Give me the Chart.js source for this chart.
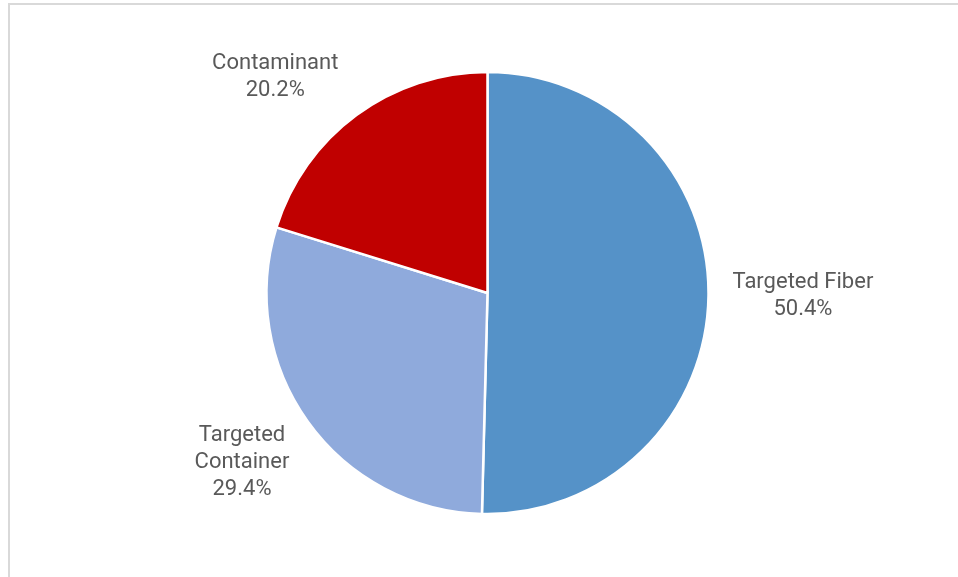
<!DOCTYPE html>
<html>
<head>
<meta charset="utf-8">
<script src="https://cdn.jsdelivr.net/npm/chart.js@4.4.1/dist/chart.umd.min.js"></script>
<style>
  html, body { margin: 0; padding: 0; background: #ffffff; overflow: hidden; }
  #frame { position: absolute; left: 8px; top: 3px; width: 1000px; height: 620px;
           border-left: 2px solid #d9d9d9; border-top: 2px solid #d9d9d9; }
  #wrap { position: absolute; left: 0; top: 0; width: 958px; height: 577px; }
</style>
</head>
<body>
<div id="frame"></div>
<div id="wrap"><canvas id="c" width="958" height="577"></canvas></div>
<script>
// ---- data ----
const categories = ["Targeted Fiber", "Targeted Container", "Contaminant"];
const labelLines = [["Targeted Fiber"], ["Targeted", "Container"], ["Contaminant"]];
const shares = [50.4, 29.4, 20.2];
const sliceColors = ["#5592c8", "#8faadc", "#c00000"];

// label placement tweaks (layout only)
const labelNudge = [[-6, 0], [-3, 0], [-26, 8]];

const outsideLabels = {
  id: "outsideLabels",
  afterDatasetsDraw(chart) {
    const ctx = chart.ctx;
    const meta = chart.getDatasetMeta(0);
    const fontPx = 22, lineH = 27, gap = 30;
    ctx.save();
    ctx.font = fontPx + "px Roboto";
    ctx.fillStyle = "#595959";
    ctx.textAlign = "center";
    ctx.textBaseline = "middle";
    meta.data.forEach((arc, i) => {
      const p = arc.getProps(["x", "y", "startAngle", "endAngle", "outerRadius"], true);
      const mid = (p.startAngle + p.endAngle) / 2;
      const dx = Math.cos(mid), dy = Math.sin(mid);
      const lines = labelLines[i].concat([shares[i].toFixed(1) + "%"]);
      const w = Math.max(...lines.map(l => ctx.measureText(l).width));
      const h = lines.length * lineH;
      const px = p.x + dx * (p.outerRadius + gap);
      const py = p.y + dy * (p.outerRadius + gap);
      const cx = px + dx * w / 2 + labelNudge[i][0];
      const cy = py + dy * h / 2 + labelNudge[i][1];
      lines.forEach((l, k) => {
        ctx.fillText(l, cx, cy + (k - (lines.length - 1) / 2) * lineH);
      });
    });
    ctx.restore();
  }
};

new Chart(document.getElementById("c"), {
  type: "pie",
  data: {
    labels: categories,
    datasets: [{
      data: shares,
      backgroundColor: sliceColors,
      borderColor: "#ffffff",
      borderWidth: 2.5
    }]
  },
  options: {
    responsive: false,
    animation: false,
    radius: 221,
    layout: { padding: { left: 17, right: 0, top: 9, bottom: 0 } },
    plugins: {
      legend: { display: false },
      tooltip: { enabled: false },
      title: { display: false }
    }
  },
  plugins: [outsideLabels]
});
</script>
</body>
</html>
